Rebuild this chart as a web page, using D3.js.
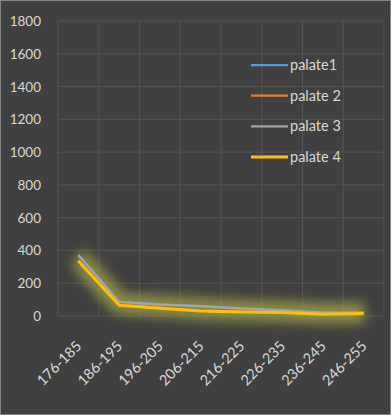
<!DOCTYPE html>
<html>
<head>
<meta charset="utf-8">
<script src="https://cdn.jsdelivr.net/npm/d3@7"></script>
<style>
  body { margin: 0; background: #404040; }
  svg { display: block; }
</style>
</head>
<body>
<div id="chart"></div>
<script>
// categories and series
let categories = ["176-185", "186-195", "196-205", "206-215", "216-225", "226-235", "236-245", "246-255"];
let palate1 = [370, 85, 72, 58, 45, 36, 22, 22];
let palate2 = [338, 68, 50, 32, 26, 22, 12, 16];
let palate3 = [372, 86, 70, 60, 46, 35, 21, 21];
let palate4 = [335, 66, 48, 30, 25, 22, 10, 15];
let yTicks = [0, 200, 400, 600, 800, 1000, 1200, 1400, 1600, 1800];
let seriesNames = ["palate1", "palate 2", "palate 3", "palate 4"];
let seriesColors = ["#5b9bd5", "#ed7d31", "#a5a5a5", "#ffc000"];

let w = 391, h = 415;
let plotLeft = 58, plotRight = 384, plotTop = 21, plotBottom = 316;
let font = "Lato, Liberation Sans, sans-serif";

let svg = d3.select("#chart").append("svg")
  .attr("width", w)
  .attr("height", h);

//glow like the office chart
let defs = svg.append("defs");
let glow = defs.append("filter").attr("id", "glow")
  .attr("x", "-20%").attr("y", "-60%").attr("width", "140%").attr("height", "220%");
glow.append("feGaussianBlur").attr("in", "SourceGraphic").attr("stdDeviation", 6);

svg.append("rect")
  .attr("width", w).attr("height", h)
  .attr("fill", "#404040")
  .attr("stroke", "#9a9a9a")
  .attr("stroke-width", 1.5);

let x = d3.scaleBand().domain(categories).range([plotLeft, plotRight]);
let y = d3.scaleLinear().domain([0, 1800]).range([plotBottom, plotTop]);

//gridlines
svg.append("g").selectAll("line")
  .data(yTicks)
  .enter().append("line")
  .attr("x1", plotLeft).attr("x2", plotRight)
  .attr("y1", d => y(d)).attr("y2", d => y(d))
  .attr("stroke", "#535353").attr("stroke-width", 1);

svg.append("g").selectAll("line")
  .data(categories.concat(["end"]))
  .enter().append("line")
  .attr("x1", (d, i) => plotLeft + i * x.bandwidth())
  .attr("x2", (d, i) => plotLeft + i * x.bandwidth())
  .attr("y1", plotTop).attr("y2", plotBottom)
  .attr("stroke", "#535353").attr("stroke-width", 1);

//y labels
svg.append("g").selectAll("text")
  .data(yTicks)
  .enter().append("text")
  .attr("x", 41)
  .attr("y", d => y(d) + 5)
  .attr("text-anchor", "end")
  .attr("font-family", font)
  .attr("font-size", "13.5px")
  .attr("fill", "#d9d9d9")
  .text(d => d);

//x labels
svg.append("g").selectAll("text")
  .data(categories)
  .enter().append("text")
  .attr("transform", d => "translate(" + (x(d) + x.bandwidth() / 2 + 4) + "," + (plotBottom + 31) + ") rotate(-45)")
  .attr("text-anchor", "end")
  .attr("font-family", font)
  .attr("font-size", "14.5px")
  .attr("fill", "#d9d9d9")
  .text(d => d);

let line = d3.line()
  .x((d, i) => x(categories[i]) + x.bandwidth() / 2)
  .y(d => y(d));

let allSeries = [palate1, palate2, palate3, palate4];

//glow under the lines
svg.append("g").selectAll("path")
  .data(allSeries)
  .enter().append("path")
  .attr("d", line)
  .attr("fill", "none")
  .attr("stroke", "#a8a848")
  .attr("stroke-opacity", 0.28)
  .attr("stroke-width", 18)
  .attr("stroke-linejoin", "round")
  .attr("filter", "url(#glow)");

svg.append("g").selectAll("path")
  .data(allSeries)
  .enter().append("path")
  .attr("d", line)
  .attr("fill", "none")
  .attr("stroke", (d, i) => seriesColors[i])
  .attr("stroke-width", (d, i) => i == 3 ? 3 : 2.25)
  .attr("stroke-linejoin", "round");

//legend
let legend = svg.append("g").selectAll("g")
  .data(seriesNames)
  .enter().append("g")
  .attr("transform", (d, i) => "translate(251," + (65 + i * 30.7) + ")");

legend.append("line")
  .attr("x1", 0).attr("x2", 37)
  .attr("stroke", (d, i) => seriesColors[i])
  .attr("stroke-width", (d, i) => i == 3 ? 3 : 2.25);

legend.append("text")
  .attr("x", 39)
  .attr("y", 5)
  .attr("font-family", font)
  .attr("font-size", "14.5px")
  .attr("fill", "#d9d9d9")
  .text(d => d);
</script>
</body>
</html>
